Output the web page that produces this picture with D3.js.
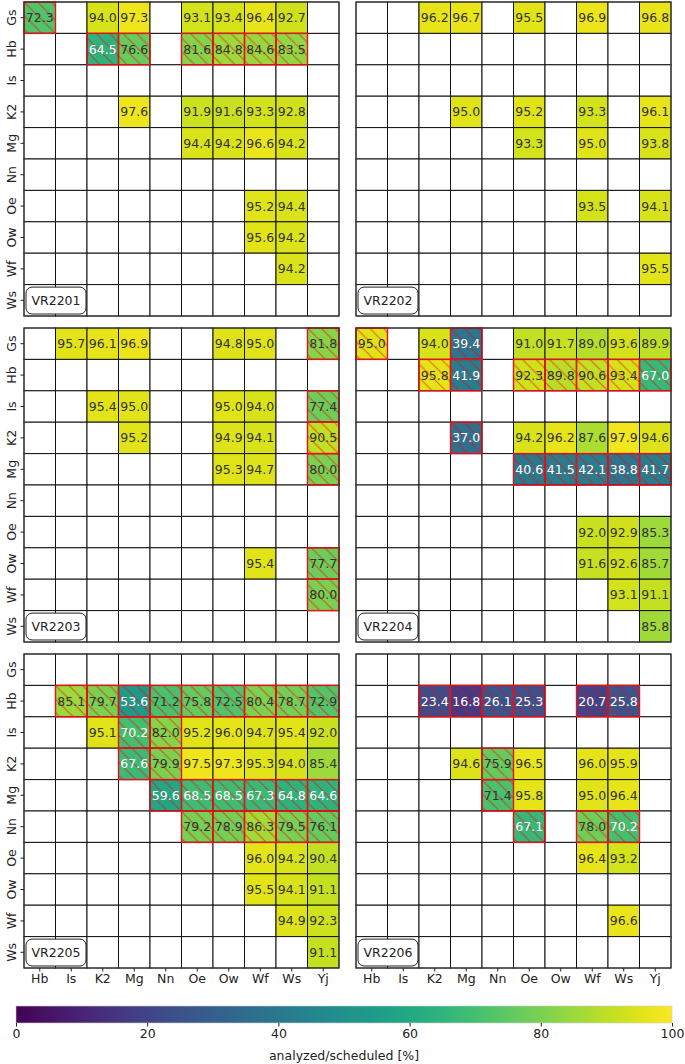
<!DOCTYPE html>
<html>
<head>
<meta charset="utf-8">
<script src="https://cdn.jsdelivr.net/npm/d3@7"></script>
<style>
  body { margin: 0; background: #fff; }
  text { font-family: "DejaVu Sans", sans-serif; }
</style>
</head>
<body>
<div id="chart"></div>
<script>
const _ = null;

// eixos
const rowLabels = ["Gs", "Hb", "Is", "K2", "Mg", "Nn", "Oe", "Ow", "Wf", "Ws"];
const colLabels = ["Hb", "Is", "K2", "Mg", "Nn", "Oe", "Ow", "Wf", "Ws", "Yj"];
const panelNames = ["VR2201", "VR2202", "VR2203", "VR2204", "VR2205", "VR2206"];
const cbTicks = [0, 20, 40, 60, 80, 100];

// valores analyzed/scheduled [%] por painel (linhas = rowLabels, colunas = colLabels)
const vr2201 = [
  [72.3, _, 94.0, 97.3, _, 93.1, 93.4, 96.4, 92.7, _],
  [_, _, 64.5, 76.6, _, 81.6, 84.8, 84.6, 83.5, _],
  [_, _, _, _, _, _, _, _, _, _],
  [_, _, _, 97.6, _, 91.9, 91.6, 93.3, 92.8, _],
  [_, _, _, _, _, 94.4, 94.2, 96.6, 94.2, _],
  [_, _, _, _, _, _, _, _, _, _],
  [_, _, _, _, _, _, _, 95.2, 94.4, _],
  [_, _, _, _, _, _, _, 95.6, 94.2, _],
  [_, _, _, _, _, _, _, _, 94.2, _],
  [_, _, _, _, _, _, _, _, _, _]
];
const vr2202 = [
  [_, _, 96.2, 96.7, _, 95.5, _, 96.9, _, 96.8],
  [_, _, _, _, _, _, _, _, _, _],
  [_, _, _, _, _, _, _, _, _, _],
  [_, _, _, 95.0, _, 95.2, _, 93.3, _, 96.1],
  [_, _, _, _, _, 93.3, _, 95.0, _, 93.8],
  [_, _, _, _, _, _, _, _, _, _],
  [_, _, _, _, _, _, _, 93.5, _, 94.1],
  [_, _, _, _, _, _, _, _, _, _],
  [_, _, _, _, _, _, _, _, _, 95.5],
  [_, _, _, _, _, _, _, _, _, _]
];
const vr2203 = [
  [_, 95.7, 96.1, 96.9, _, _, 94.8, 95.0, _, 81.8],
  [_, _, _, _, _, _, _, _, _, _],
  [_, _, 95.4, 95.0, _, _, 95.0, 94.0, _, 77.4],
  [_, _, _, 95.2, _, _, 94.9, 94.1, _, 90.5],
  [_, _, _, _, _, _, 95.3, 94.7, _, 80.0],
  [_, _, _, _, _, _, _, _, _, _],
  [_, _, _, _, _, _, _, _, _, _],
  [_, _, _, _, _, _, _, 95.4, _, 77.7],
  [_, _, _, _, _, _, _, _, _, 80.0],
  [_, _, _, _, _, _, _, _, _, _]
];
const vr2204 = [
  [95.0, _, 94.0, 39.4, _, 91.0, 91.7, 89.0, 93.6, 89.9],
  [_, _, 95.8, 41.9, _, 92.3, 89.8, 90.6, 93.4, 67.0],
  [_, _, _, _, _, _, _, _, _, _],
  [_, _, _, 37.0, _, 94.2, 96.2, 87.6, 97.9, 94.6],
  [_, _, _, _, _, 40.6, 41.5, 42.1, 38.8, 41.7],
  [_, _, _, _, _, _, _, _, _, _],
  [_, _, _, _, _, _, _, 92.0, 92.9, 85.3],
  [_, _, _, _, _, _, _, 91.6, 92.6, 85.7],
  [_, _, _, _, _, _, _, _, 93.1, 91.1],
  [_, _, _, _, _, _, _, _, _, 85.8]
];
const vr2205 = [
  [_, _, _, _, _, _, _, _, _, _],
  [_, 85.1, 79.7, 53.6, 71.2, 75.8, 72.5, 80.4, 78.7, 72.9],
  [_, _, 95.1, 70.2, 82.0, 95.2, 96.0, 94.7, 95.4, 92.0],
  [_, _, _, 67.6, 79.9, 97.5, 97.3, 95.3, 94.0, 85.4],
  [_, _, _, _, 59.6, 68.5, 68.5, 67.3, 64.8, 64.6],
  [_, _, _, _, _, 79.2, 78.9, 86.3, 79.5, 76.1],
  [_, _, _, _, _, _, _, 96.0, 94.2, 90.4],
  [_, _, _, _, _, _, _, 95.5, 94.1, 91.1],
  [_, _, _, _, _, _, _, _, 94.9, 92.3],
  [_, _, _, _, _, _, _, _, _, 91.1]
];
const vr2206 = [
  [_, _, _, _, _, _, _, _, _, _],
  [_, _, 23.4, 16.8, 26.1, 25.3, _, 20.7, 25.8, _],
  [_, _, _, _, _, _, _, _, _, _],
  [_, _, _, 94.6, 75.9, 96.5, _, 96.0, 95.9, _],
  [_, _, _, _, 71.4, 95.8, _, 95.0, 96.4, _],
  [_, _, _, _, _, 67.1, _, 78.0, 70.2, _],
  [_, _, _, _, _, _, _, 96.4, 93.2, _],
  [_, _, _, _, _, _, _, _, _, _],
  [_, _, _, _, _, _, _, _, 96.6, _],
  [_, _, _, _, _, _, _, _, _, _]
];

// células marcadas (hachuradas) por painel: [linha, coluna]
const flag2201 = [["Gs","Hb"],["Hb","K2"],["Hb","Mg"],["Hb","Oe"],["Hb","Ow"],["Hb","Wf"],["Hb","Ws"]];
const flag2202 = [];
const flag2203 = [["Gs","Yj"],["Is","Yj"],["K2","Yj"],["Mg","Yj"],["Ow","Yj"],["Wf","Yj"]];
const flag2204 = [["Gs","Hb"],["Gs","Mg"],["Hb","K2"],["Hb","Mg"],["Hb","Oe"],["Hb","Ow"],["Hb","Wf"],
  ["Hb","Ws"],["Hb","Yj"],["K2","Mg"],["Mg","Oe"],["Mg","Ow"],["Mg","Wf"],["Mg","Ws"],["Mg","Yj"]];
const flag2205 = [["Hb","Is"],["Hb","K2"],["Hb","Mg"],["Hb","Nn"],["Hb","Oe"],["Hb","Ow"],["Hb","Wf"],
  ["Hb","Ws"],["Hb","Yj"],["Is","Mg"],["Is","Nn"],["K2","Mg"],["K2","Nn"],["Mg","Nn"],["Mg","Oe"],
  ["Mg","Ow"],["Mg","Wf"],["Mg","Ws"],["Mg","Yj"],["Nn","Oe"],["Nn","Ow"],["Nn","Wf"],["Nn","Ws"],["Nn","Yj"]];
const flag2206 = [["Hb","K2"],["Hb","Mg"],["Hb","Nn"],["Hb","Oe"],["Hb","Wf"],["Hb","Ws"],
  ["K2","Nn"],["Mg","Nn"],["Nn","Oe"],["Nn","Wf"],["Nn","Ws"]];

const panelValues = [vr2201, vr2202, vr2203, vr2204, vr2205, vr2206];
const panelFlags = [flag2201, flag2202, flag2203, flag2204, flag2205, flag2206];

// ====== Layout ======
const W = 685, H = 1064;
const colX = [24, 356];
const rowY = [2, 328, 654];
const pw = 315, ph = 314;
const fs = 12.5;

const color = d3.scaleSequential(d3.interpolateViridis).domain([0, 100]);

const svg = d3.select("#chart").append("svg")
  .attr("width", W).attr("height", H);

// padrão de hachura "\\"
const defs = svg.append("defs");
const hs = 13.5;
const pat = defs.append("pattern")
  .attr("id", "hatch")
  .attr("patternUnits", "userSpaceOnUse")
  .attr("x", 0).attr("y", 0)
  .attr("width", hs).attr("height", hs);
pat.append("path")
  .attr("d", `M0,0L${hs},${hs}M${-hs / 2},${hs / 2}L${hs / 2},${hs * 1.5}M${hs / 2},${-hs / 2}L${hs * 1.5},${hs / 2}`)
  .attr("fill", "none")
  .attr("stroke", "#ff0000")
  .attr("stroke-opacity", 0.6)
  .attr("stroke-width", 1);

const x = d3.scaleBand().domain(colLabels).range([0, pw]);
const y = d3.scaleBand().domain(rowLabels).range([0, ph]);

panelNames.forEach((name, i) => {
  const ci = i % 2, ri = Math.floor(i / 2);
  const g = svg.append("g").attr("transform", `translate(${colX[ci]},${rowY[ri]})`);
  const vals = panelValues[i];
  const flagSet = new Set(panelFlags[i].map(d => d.join("-")));

  const cells = [];
  rowLabels.forEach((r, a) => colLabels.forEach((c, b) => {
    cells.push({ r, c, v: vals[a][b], flag: flagSet.has(r + "-" + c) });
  }));

  // grade
  g.append("g").selectAll("rect")
    .data(cells)
    .enter()
    .append("rect")
    .attr("x", d => x(d.c)).attr("y", d => y(d.r))
    .attr("width", x.bandwidth()).attr("height", y.bandwidth())
    .attr("fill", d => d.v == null ? "#fff" : color(d.v))
    .attr("stroke", "#111")
    .attr("stroke-width", 1);

  // hachura + borda vermelha
  const flagged = cells.filter(d => d.flag && d.v != null);
  g.append("g").selectAll("rect")
    .data(flagged)
    .enter()
    .append("rect")
    .attr("x", d => x(d.c)).attr("y", d => y(d.r))
    .attr("width", x.bandwidth()).attr("height", y.bandwidth())
    .attr("fill", "url(#hatch)")
    .attr("stroke", "#e8101a")
    .attr("stroke-width", 1.4);

  // valores
  g.append("g").selectAll("text")
    .data(cells.filter(d => d.v != null))
    .enter()
    .append("text")
    .attr("x", d => x(d.c) + x.bandwidth() / 2)
    .attr("y", d => y(d.r) + y.bandwidth() / 2)
    .attr("dy", "0.36em")
    .attr("text-anchor", "middle")
    .attr("font-size", fs)
    .attr("fill", d => d.v < 71 ? "#fff" : "#333")
    .text(d => d.v.toFixed(1));

  // moldura
  g.append("rect")
    .attr("width", pw).attr("height", ph)
    .attr("fill", "none").attr("stroke", "#333").attr("stroke-width", 1);

  // rótulo do painel
  const lb = g.append("g")
    .attr("transform", `translate(${x("Hb") + 2},${y("Ws") + 2.5})`);
  lb.append("rect")
    .attr("width", 2 * x.bandwidth() - 3).attr("height", y.bandwidth() - 4.5)
    .attr("rx", 6).attr("ry", 6)
    .attr("fill", "#fff").attr("stroke", "#222").attr("stroke-width", 1);
  lb.append("text")
    .attr("x", x.bandwidth() - 1.5)
    .attr("y", (y.bandwidth() - 4.5) / 2)
    .attr("dy", "0.36em")
    .attr("text-anchor", "middle")
    .attr("font-size", fs)
    .attr("fill", "#222")
    .text(name);

  // eixos
  if (ci === 0) {
    const ay = g.append("g").call(d3.axisLeft(y).tickSize(3.5).tickPadding(3));
    ay.select(".domain").remove();
    ay.selectAll("text")
      .attr("font-size", fs).attr("font-family", "DejaVu Sans")
      .attr("fill", "#222")
      .attr("transform", "rotate(-90)")
      .attr("text-anchor", "middle")
      .attr("x", 0).attr("y", -8.5).attr("dy", 0);
    ay.selectAll("line").attr("stroke", "#222");
  }
  if (ri === 2) {
    const ax = g.append("g").attr("transform", `translate(0,${ph})`)
      .call(d3.axisBottom(x).tickSize(3.5).tickPadding(3));
    ax.select(".domain").remove();
    ax.selectAll("text")
      .attr("font-size", fs).attr("font-family", "DejaVu Sans").attr("fill", "#222");
    ax.selectAll("line").attr("stroke", "#222");
  }
});

// ====== Barra de cores ======
const cbX0 = 16, cbX1 = 672, cbY = 1006, cbH = 17;
const cbScale = d3.scaleLinear().domain([0, 100]).range([cbX0, cbX1]);
const grad = defs.append("linearGradient").attr("id", "viridis");
d3.range(0, 1.0001, 0.05).forEach(t => {
  grad.append("stop").attr("offset", t).attr("stop-color", d3.interpolateViridis(t));
});
svg.append("rect")
  .attr("x", cbX0).attr("y", cbY)
  .attr("width", cbX1 - cbX0).attr("height", cbH)
  .attr("fill", "url(#viridis)")
  .attr("stroke", "#ccc").attr("stroke-width", 0.6);

const cbAxis = svg.append("g").attr("transform", `translate(0,${cbY + cbH})`)
  .call(d3.axisBottom(cbScale).tickValues(cbTicks).tickSize(3.5).tickPadding(3));
cbAxis.select(".domain").remove();
cbAxis.selectAll("text").attr("font-size", fs).attr("font-family", "DejaVu Sans").attr("fill", "#222");
cbAxis.selectAll("line").attr("stroke", "#222");

svg.append("text")
  .attr("x", (cbX0 + cbX1) / 2).attr("y", 1060)
  .attr("text-anchor", "middle")
  .attr("font-size", fs)
  .attr("fill", "#222")
  .text("analyzed/scheduled [%]");
</script>
</body>
</html>
